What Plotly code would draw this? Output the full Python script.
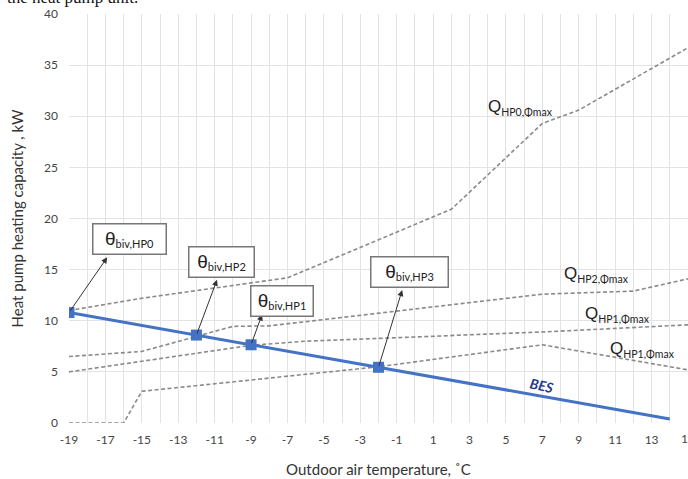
import plotly.graph_objects as go

# ---- data ----
bes_x = [-19, -12, -9, -2, 7, 14]
bes_y = [10.8, 8.6, 7.65, 5.45, 2.6, 0.4]

biv_x = [-19, -12, -9, -2]
biv_y = [10.8, 8.6, 7.65, 5.45]

hp0_x = [-19, -15, -7, 2, 7, 9, 15]
hp0_y = [11.0, 12.2, 14.2, 20.9, 29.3, 30.6, 36.7]

hp2_x = [-19, -15, -10, -8, 7, 12, 15]
hp2_y = [6.5, 7.0, 9.45, 9.5, 12.6, 12.9, 14.1]

hp1_x = [-19, -9, -6, 7, 15]
hp1_y = [5.0, 7.6, 8.0, 8.9, 9.6]

hp3_x = [-19, -16, -15, -2, 7, 15]
hp3_y = [0.0, 0.0, 3.1, 5.5, 7.65, 5.2]

x_ticks = list(range(-19, 16, 2))
y_ticks = [0, 5, 10, 15, 20, 25, 30, 35, 40]

# labels for capacity curves: (subscript, x, y)
q_labels = [
    ("HP0,Φmax", 5.8, 30.9),
    ("HP2,Φmax", 10.0, 14.5),
    ("HP1,Φmax", 11.1, 10.6),
    ("HP1,Φmax", 12.5, 7.2),
]

# bivalent point boxes: (name, box centre x, box centre y, arrow tip x, arrow tip y)
biv_boxes = [
    ("HP0", -15.7, 17.95, -16.9, 16.2),
    ("HP2", -10.6, 15.7, -10.87, 14.0),
    ("HP1", -7.3, 11.95, -8.4, 10.6),
    ("HP3", -0.3, 14.8, -0.7, 13.0),
]
box_w = [66, 58, 55, 70]

DASH = "4px,2.5px"
GREY = "#8a8a8a"
BLUE = "#4472C4"
SANS = "Lato, sans-serif"

fig = go.Figure()
for xs, ys in [(hp0_x, hp0_y), (hp2_x, hp2_y), (hp1_x, hp1_y), (hp3_x, hp3_y)]:
    fig.add_trace(go.Scatter(x=xs, y=ys, mode="lines",
                             line=dict(color=GREY, width=1.6, dash=DASH),
                             showlegend=False, hoverinfo="skip"))

fig.add_trace(go.Scatter(x=bes_x, y=bes_y, mode="lines",
                         line=dict(color=BLUE, width=3), showlegend=False))
fig.add_trace(go.Scatter(x=biv_x, y=biv_y, mode="markers",
                         marker=dict(symbol="square", size=11, color=BLUE),
                         showlegend=False))

ann = []
for txt, x, y in q_labels:
    ann.append(dict(x=x, y=y, xref="x", yref="y", showarrow=False,
                    text=f"Q<sub><span style='font-size:10.5px;font-family:Lato'>{txt}</span></sub>",
                    font=dict(family="Liberation Sans, Arial", size=17, color="#222")))

names = ["HP0", "HP2", "HP1", "HP3"]
for (name, cx, cy, tx, ty), w in zip(biv_boxes, box_w):
    idx = names.index(name)
    ann.append(dict(x=tx, y=ty, xref="x", yref="y", ax=biv_x[idx], ay=biv_y[idx],
                    axref="x", ayref="y", text="", showarrow=True,
                    arrowhead=2, arrowsize=1.2, arrowwidth=1, arrowcolor="#333"))
    ann.append(dict(x=cx, y=cy, xref="x", yref="y", showarrow=False,
                    text=f"θ<sub><span style='font-size:11px;font-family:Lato'>biv,{name}</span></sub>",
                    font=dict(family="Liberation Sans, Arial", size=19, color="#222"),
                    bgcolor="white", bordercolor="#777", borderwidth=1.5,
                    borderpad=3, width=w, height=23))

ann.append(dict(x=7.0, y=3.7, xref="x", yref="y", showarrow=False, text="<b><i>BES</i></b>",
                textangle=12, font=dict(family=SANS, size=14, color="#1f3a8a")))

# last tick label (15) sits on the right edge and is cut by it
ann.append(dict(x=15, y=0, xref="x", yref="paper", yanchor="top", yshift=-6,
                showarrow=False, text=str(x_ticks[-1]),
                font=dict(family=SANS, size=12, color="#444")))

ann.append(dict(x=(5 - 69) / 619, y=1, xref="paper", yref="paper", xanchor="left",
                yanchor="bottom", yshift=5, showarrow=False, text="the heat pump unit.",
                font=dict(family="Liberation Serif, Times New Roman", size=17, color="#111")))

fig.update_layout(
    width=688, height=479,
    margin=dict(l=69, r=0, t=14, b=56),
    paper_bgcolor="white", plot_bgcolor="white",
    annotations=ann,
    xaxis=dict(range=[-19, 15], tickvals=x_ticks[:-1], ticktext=[str(v) for v in x_ticks[:-1]],
               showgrid=True, gridcolor="#e3e3e3", gridwidth=1,
               minor=dict(dtick=1, tick0=-19, showgrid=True, gridcolor="#e3e3e3"),
               zeroline=False, showline=False, ticks="", automargin=False,
               tickfont=dict(family=SANS, size=12, color="#444"),
               ticklabelstandoff=8,
               title=dict(text="Outdoor air temperature, ˚C", standoff=18,
                          font=dict(family=SANS, size=15, color="#333"))),
    yaxis=dict(range=[0, 40], tickvals=y_ticks, showgrid=True, gridcolor="#e3e3e3",
               zeroline=False, showline=False, ticks="", automargin=False,
               tickfont=dict(family=SANS, size=12, color="#444"),
               ticklabelstandoff=10,
               title=dict(text="Heat pump heating capacity , kW", standoff=16,
                          font=dict(family=SANS, size=15, color="#333"))),
)

fig.write_html("out.html", config={"displayModeBar": False},
               post_script="document.body.style.margin='0';document.body.style.overflow='hidden';")
